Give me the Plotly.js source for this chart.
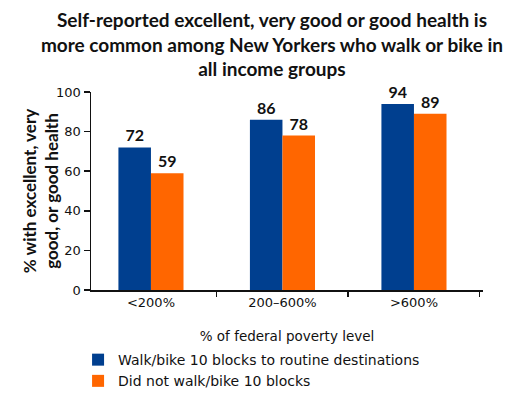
<!DOCTYPE html>
<html>
<head>
<meta charset="utf-8">
<script src="https://cdn.plot.ly/plotly-3.0.1.min.js"></script>
<style>html,body{margin:0;padding:0;background:#fff;}#chart{width:525px;height:397px;}</style>
</head>
<body>
<div id="chart"></div>
<script>
const categories = ['<200%', '200–600%', '>600%'];
const seriesNames = ['Walk/bike 10 blocks to routine destinations', 'Did not walk/bike 10 blocks'];
const walkBike = [72, 86, 94];
const noWalkBike = [59, 78, 89];
const yTicks = [0, 20, 40, 60, 80, 100];

const BLUE = '#003f8f';
const ORANGE = '#ff6600';
const labelFont = {family: 'Lato, sans-serif', size: 16, color: '#111', weight: 'bold'};

const traces = [
  {type: 'bar', name: seriesNames[0], x: categories, y: walkBike, marker: {color: BLUE},
   text: walkBike.map(String), textposition: 'outside', textfont: labelFont, constraintext: 'none', cliponaxis: false},
  {type: 'bar', name: seriesNames[1], x: categories, y: noWalkBike, marker: {color: ORANGE},
   text: noWalkBike.map(String), textposition: 'outside', textfont: labelFont, constraintext: 'none', cliponaxis: false}
];

const layout = {
  width: 525, height: 397,
  margin: {l: 91, r: 42, t: 92, b: 107, autoexpand: false},
  paper_bgcolor: '#fff', plot_bgcolor: '#fff',
  barmode: 'group', bargap: 0.505, bargroupgap: 0,
  showlegend: true,
  title: {
    text: 'Self-reported excellent, very good or good health is<br>more common among New Yorkers who walk or bike in<br>all income groups',
    font: {family: 'Lato, sans-serif', size: 19, color: '#111', weight: 'bold'},
    x: 0.518, xref: 'container', xanchor: 'center',
    y: 1 - 27 / 397, yref: 'container', yanchor: 'middle'
  },
  xaxis: {
    type: 'category', range: [-0.456, 2.525], tickson: 'boundaries',
    ticks: 'outside', ticklen: 5, tickwidth: 1.5, tickcolor: '#111',
    showgrid: false, zeroline: false, tickangle: 0,
    showline: true, linecolor: '#111', linewidth: 1.5,
    tickfont: {family: 'DejaVu Sans, sans-serif', size: 13, color: '#111'},
    title: {text: '% of federal poverty level', font: {family: 'DejaVu Sans, sans-serif', size: 13.5, color: '#111'}},
    fixedrange: true
  },
  yaxis: {
    range: [0, 100], tickvals: yTicks, ticks: 'outside', ticklen: 6, tickwidth: 1.5, tickcolor: '#111',
    showgrid: false, zeroline: false, showline: true, linecolor: '#111', linewidth: 1.5,
    tickfont: {family: 'DejaVu Sans, sans-serif', size: 13, color: '#111'},
    title: {text: '% with excellent, very<br>good, or good health', font: {family: 'Lato, sans-serif', size: 17, color: '#111', weight: 'bold'}},
    fixedrange: true
  },
  legend: {
    orientation: 'v', x: -0.033, xanchor: 'left', y: -0.273, yanchor: 'top',
    font: {family: 'DejaVu Sans, sans-serif', size: 14, color: '#111'}
  }
};

Plotly.newPlot('chart', traces, layout, {displayModeBar: false, staticPlot: true});
</script>
</body>
</html>
